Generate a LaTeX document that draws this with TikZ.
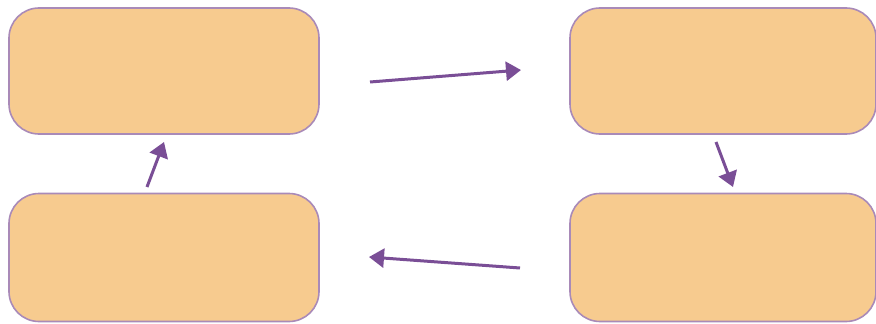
\documentclass[tikz,border=0pt]{standalone}
\usetikzlibrary{arrows.meta}
\definecolor{boxfill}{HTML}{F7CB8F}
\definecolor{boxline}{HTML}{A98AB8}
\definecolor{arrowpurple}{HTML}{7A4E96}
\begin{document}
\begin{tikzpicture}[x=1pt,y=-1pt,
  stagebox/.style={draw=boxline,fill=boxfill,line width=1.6pt,rounded corners=30pt,
    minimum width=310pt,minimum height=126pt,inner sep=0pt},
  cyclearrow/.style={draw=arrowpurple,line width=3pt,
    -{Triangle[length=15pt,width=19pt]}}]
  \useasboundingbox (0,0) rectangle (876,324);
  % the four stages
  \node[stagebox] (topleft) at (164,71) {};
  \node[stagebox,minimum width=306pt] (topright) at (723,71) {};
  \node[stagebox,minimum height=128pt] (botleft) at (164,257.5) {};
  \node[stagebox,minimum width=306pt,minimum height=128pt] (botright) at (723,257.5) {};
  % arrow ends
  \coordinate (tl-out) at (370,82);
  \coordinate (tr-in) at (521,70);
  \coordinate (tr-out) at (716,142);
  \coordinate (br-in) at (733,187);
  \coordinate (br-out) at (520,268);
  \coordinate (bl-in) at (369,257);
  \coordinate (bl-out) at (147,187);
  \coordinate (tl-in) at (164,142);
  \draw[cyclearrow] (tl-out) -- (tr-in);
  \draw[cyclearrow] (tr-out) -- (br-in);
  \draw[cyclearrow] (br-out) -- (bl-in);
  \draw[cyclearrow] (bl-out) -- (tl-in);
\end{tikzpicture}
\end{document}
